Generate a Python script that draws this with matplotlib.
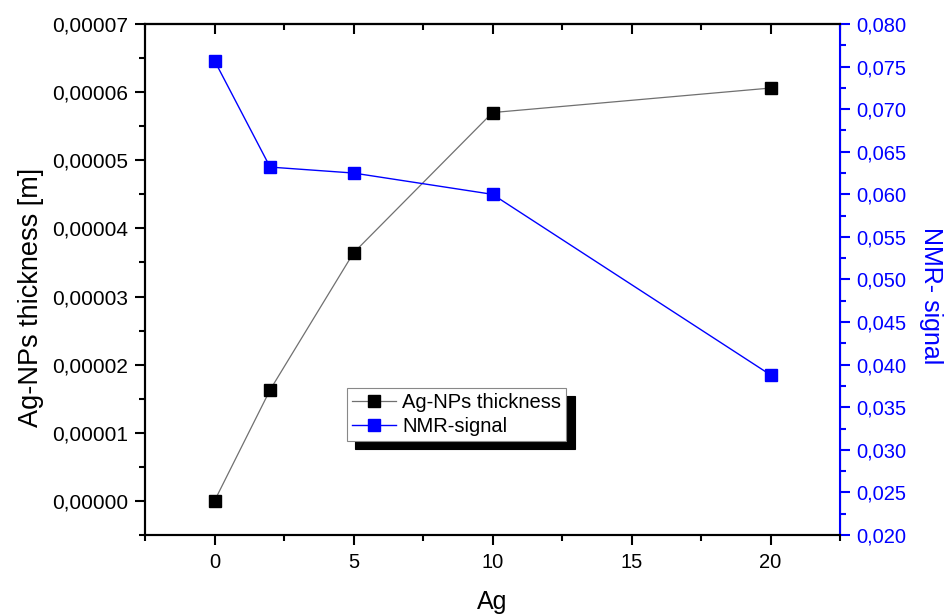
import matplotlib
matplotlib.use("Agg")
import matplotlib.pyplot as plt
from matplotlib.ticker import FuncFormatter, MultipleLocator

plt.rcParams['font.family'] = ['Liberation Sans', 'DejaVu Sans']

ag = [0, 2, 5, 10, 20]
thickness = [0.0, 1.63e-5, 3.64e-5, 5.70e-5, 6.06e-5]
nmr = [0.0757, 0.0632, 0.0625, 0.0600, 0.0388]

fig = plt.figure(figsize=(9.48, 6.16), dpi=100)
ax = fig.add_axes([145/948, 81/616, 695/948, 511/616])
ax2 = ax.twinx()

l1, = ax.plot(ag, thickness, color='#707070', lw=0.9, marker='s', ms=8,
              mfc='black', mec='black', label='Ag-NPs thickness')
l2, = ax2.plot(ag, nmr, color='blue', lw=1.0, marker='s', ms=8,
               mfc='blue', mec='blue', label='NMR-signal')

ax.set_xlim(-2.5, 22.5)
ax.set_ylim(-0.000005, 0.00007)
ax2.set_ylim(0.020, 0.080)

ax.xaxis.set_major_locator(MultipleLocator(5))
ax.xaxis.set_minor_locator(MultipleLocator(2.5))
ax.yaxis.set_major_locator(MultipleLocator(0.00001))
ax.yaxis.set_minor_locator(MultipleLocator(0.000005))
ax2.yaxis.set_major_locator(MultipleLocator(0.005))
ax2.yaxis.set_minor_locator(MultipleLocator(0.0025))

ax.yaxis.set_major_formatter(FuncFormatter(lambda v, p: f"{v:.5f}".replace('.', ',').replace('-0,00000', '0,00000')))
ax2.yaxis.set_major_formatter(FuncFormatter(lambda v, p: f"{v:.3f}".replace('.', ',')))

ax.tick_params(axis='x', which='both', direction='out', bottom=True, top=False, labelsize=14.5, width=1.5, pad=6)
ax.tick_params(axis='x', which='major', length=7)
ax.tick_params(axis='x', which='minor', length=4)
ax.tick_params(axis='y', which='both', direction='out', left=True, right=False, labelsize=15, width=1.5, pad=5)
ax.tick_params(axis='y', which='major', length=7)
ax.tick_params(axis='y', which='minor', length=4)

sec = ax.secondary_xaxis('top')
sec.xaxis.set_major_locator(MultipleLocator(5))
sec.xaxis.set_minor_locator(MultipleLocator(2.5))
sec.tick_params(axis='x', which='both', direction='in', labeltop=False, width=1.5)
sec.tick_params(axis='x', which='major', length=7)
sec.tick_params(axis='x', which='minor', length=4)
sec.spines['top'].set_linewidth(1.5)

ax2.tick_params(axis='y', which='both', direction='out', colors='blue', labelsize=14.5, width=1.5, pad=5)
ax2.tick_params(axis='y', which='major', length=7)
ax2.tick_params(axis='y', which='minor', length=4)

for s in ['left', 'bottom', 'top']:
    ax.spines[s].set_linewidth(1.5)
for s in ['left', 'bottom', 'top', 'right']:
    ax2.spines[s].set_linewidth(1.5)
ax2.spines['right'].set_color('blue')

ax.set_xlabel('Ag', fontsize=18, labelpad=13)
ax.set_ylabel('Ag-NPs thickness [m]', fontsize=19.5, labelpad=6)
ax.yaxis.label.set_y(0.464)
ax2.set_ylabel('NMR- signal', fontsize=18, color='blue', rotation=-90, labelpad=26)
ax2.yaxis.label.set_y(0.468)

leg = ax2.legend(handles=[l1, l2], loc='upper left',
                 bbox_to_anchor=(347/948, 1 - 388/616), bbox_transform=fig.transFigure,
                 fontsize=14.5, frameon=True, fancybox=False, borderpad=0.25,
                 handlelength=2.2, handletextpad=0.3, labelspacing=0.25,
                 borderaxespad=0,
                 shadow={'color': 'black', 'alpha': 1, 'ox': 6, 'oy': -6})
leg.get_frame().set_edgecolor('#888888')
leg.get_frame().set_linewidth(0.8)
leg.get_frame().set_alpha(1)
leg.set_zorder(10)

fig.savefig('out.png', dpi=100)
